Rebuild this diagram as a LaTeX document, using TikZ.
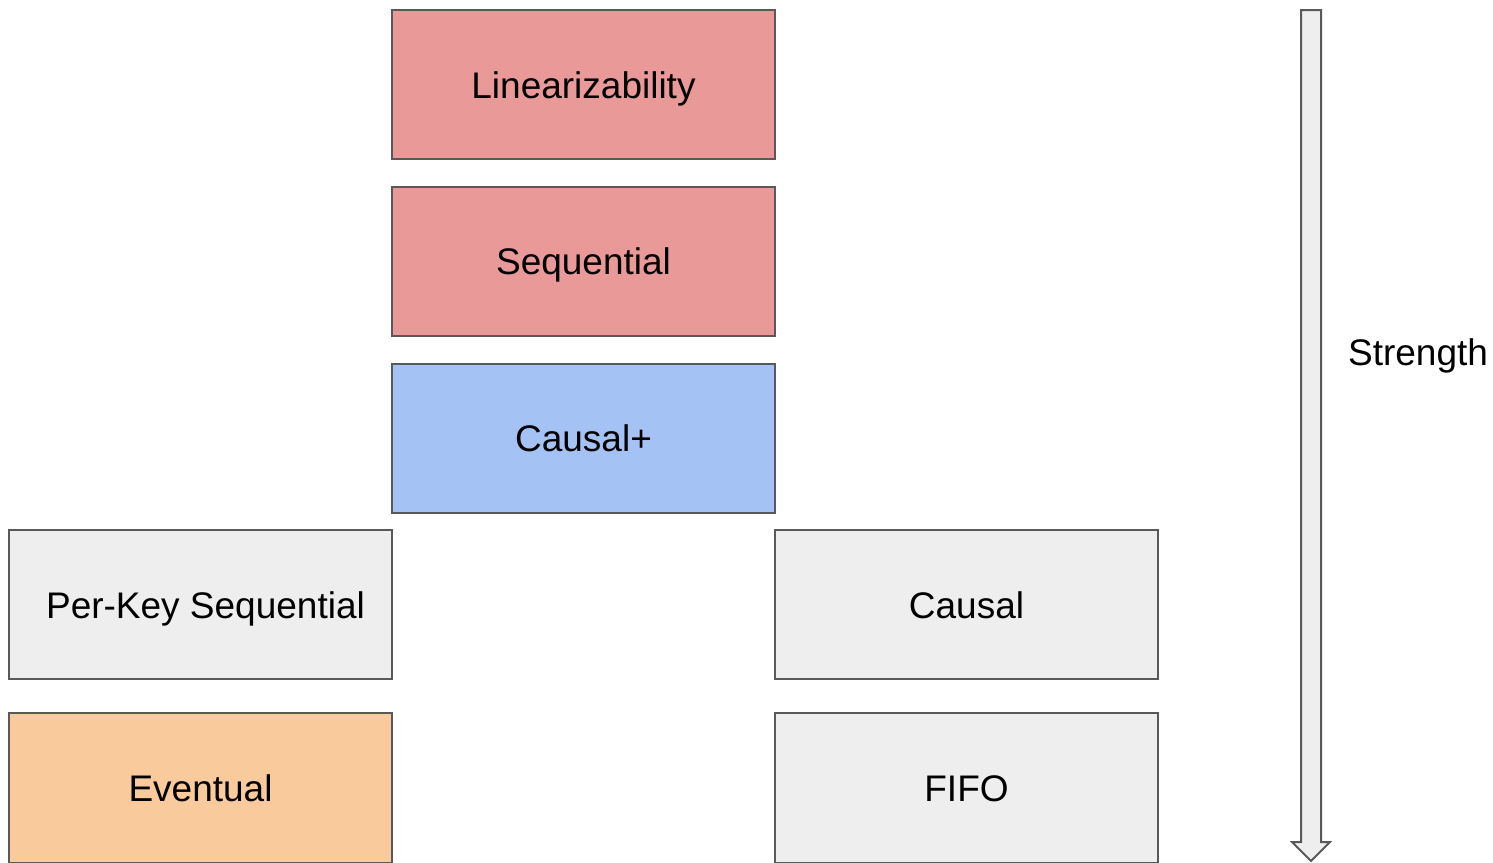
\documentclass[tikz,border=0pt]{standalone}
\usepackage{fontspec}
\setmainfont{Liberation Sans}
\definecolor{edge}{HTML}{595959}
\definecolor{strongred}{HTML}{EA9999}
\definecolor{causalblue}{HTML}{A4C2F4}
\definecolor{weakorange}{HTML}{F9CB9C}
\definecolor{neutral}{HTML}{EEEEEE}
\tikzset{
  label text/.style={font=\fontsize{37}{40}\selectfont, text=black,
    text height=27pt, text depth=0pt},
  level/.style={label text, draw=edge, line width=2pt, minimum width=383pt,
    minimum height=149pt, inner sep=0pt},
}
\begin{document}
\begin{tikzpicture}[x=1pt,y=-1pt]
\useasboundingbox (0,0) rectangle (1493,862);
\node[level, fill=strongred] (lin) at (583.5,84.5) {Linearizability};
\node[level, fill=strongred] (seq) at (583.5,261) {Sequential};
\node[level, fill=causalblue] (cplus) at (583.5,438) {Causal+};
\node[level, fill=neutral] (pks) at (200.5,604.5) {\hspace*{10pt}Per-Key Sequential};
\node[level, fill=neutral] (causal) at (966.5,604.5) {Causal};
\node[level, fill=weakorange, minimum height=150pt] (ev) at (200.5,788) {Eventual};
\node[level, fill=neutral, minimum height=150pt] (fifo) at (966.5,788) {FIFO};
% strength arrow, pointing down
\draw[draw=edge, line width=2pt, fill=neutral, line join=miter]
  (1301,10) -- (1321,10) -- (1321,842) -- (1330,842) -- (1311,861)
  -- (1292,842) -- (1301,842) -- cycle;
\node[label text, inner sep=0pt] (strength) at (1418,352) {Strength};
\end{tikzpicture}
\end{document}
